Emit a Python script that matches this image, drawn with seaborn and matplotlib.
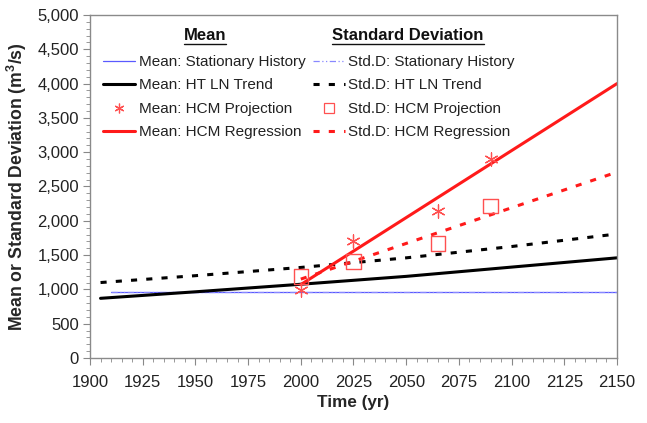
import numpy as np
import pandas as pd
import matplotlib
matplotlib.use("Agg")
import matplotlib.pyplot as plt
import seaborn as sns
from matplotlib.lines import Line2D
from matplotlib.ticker import MultipleLocator, FuncFormatter

# ---- data ----
stat_years = [1910, 2150]
stat_mean = [966, 966]
stat_std = [968, 968]

ht_years = [1905, 1950, 2000, 2050, 2100, 2150]
ht_mean = [870, 965, 1075, 1190, 1325, 1460]
ht_std = [1100, 1200, 1320, 1460, 1625, 1808]

reg_years = [2000, 2150]
reg_mean = [1070, 4000]
reg_std = [1150, 2710]

proj_years = [2000, 2025, 2065, 2090]
proj_mean = [990, 1700, 2150, 2905]
proj_std = [1185, 1405, 1672, 2216]

x_ticks = list(range(1900, 2151, 25))
y_ticks = list(range(0, 5001, 500))

sns.set_theme(style="white")
plt.rcParams['font.family'] = ['Liberation Sans', 'DejaVu Sans']
plt.rcParams['mathtext.fontset'] = 'custom'
plt.rcParams['mathtext.rm'] = 'Liberation Sans'
plt.rcParams['mathtext.bf'] = 'Liberation Sans:bold'

W, H = 647, 423
fig = plt.figure(figsize=(W / 100, H / 100), dpi=100)
ax = fig.add_axes([90 / W, 1 - 358 / H, (617 - 90) / W, (358 - 15) / H])

blue1 = '#5a5aff'
blue2 = '#8888ff'
red = '#ff1a1a'
lw_thick = 2.2
dash_pat = (2.0, 3.0)

df_stat = pd.DataFrame({'year': stat_years, 'mean': stat_mean, 'std': stat_std})
df_ht = pd.DataFrame({'year': ht_years, 'mean': ht_mean, 'std': ht_std})
df_reg = pd.DataFrame({'year': reg_years, 'mean': reg_mean, 'std': reg_std})
df_proj = pd.DataFrame({'year': proj_years, 'mean': proj_mean, 'std': proj_std})

sns.lineplot(data=df_stat, x='year', y='mean', ax=ax, color=blue1, linewidth=0.9)
sns.lineplot(data=df_stat, x='year', y='std', ax=ax, color=blue2, linewidth=0.9)
ax.lines[-1].set_dashes((5, 2, 1, 2, 1, 2))

sns.lineplot(data=df_ht, x='year', y='mean', ax=ax, color='black', linewidth=lw_thick)
sns.lineplot(data=df_ht, x='year', y='std', ax=ax, color='black', linewidth=lw_thick)
ax.lines[-1].set_dashes(dash_pat)

sns.lineplot(data=df_reg, x='year', y='mean', ax=ax, color=red, linewidth=lw_thick)
sns.lineplot(data=df_reg, x='year', y='std', ax=ax, color=red, linewidth=lw_thick)
ax.lines[-1].set_dashes(dash_pat)

ast_marker = (6, 2, 0)
sns.scatterplot(data=df_proj, x='year', y='mean', ax=ax, marker=ast_marker,
                s=90, color='#ff5050', edgecolor='#ff5050', linewidth=0.9, zorder=5)
sns.scatterplot(data=df_proj, x='year', y='std', ax=ax, marker='s', s=110,
                facecolor='none', edgecolor='#ff5050', linewidth=1.0, zorder=5)

ax.set_xlim(1900, 2150)
ax.set_ylim(0, 5000)
ax.set_xticks(x_ticks)
ax.set_yticks(y_ticks)
ax.xaxis.set_minor_locator(MultipleLocator(5))
ax.yaxis.set_minor_locator(MultipleLocator(100))
ax.yaxis.set_major_formatter(FuncFormatter(lambda v, p: f"{int(v):,}"))
ax.tick_params(axis='both', which='major', direction='out', length=5, width=0.8,
               color='#888888', labelsize=12, labelcolor='#222222', pad=3,
               bottom=True, left=True)
ax.tick_params(axis='both', which='minor', direction='out', length=3, width=0.6,
               color='#888888', bottom=True, left=True)
ax.tick_params(axis='x', pad=7)
for s in ax.spines.values():
    s.set_color('#8a8a8a')
    s.set_linewidth(1.0)

ax.set_xlabel('Time (yr)', fontsize=12.3, fontweight='bold', labelpad=4)
ax.set_ylabel(r'Mean or Standard Deviation (m$^{\mathbf{3}}$/s)', fontsize=12.7,
              fontweight='bold', labelpad=6)

# legend
handles = [
    Line2D([], [], color=blue1, lw=0.9),
    Line2D([], [], color='black', lw=lw_thick),
    Line2D([], [], color='#ff5050', lw=0, marker=ast_marker, markersize=7, markeredgewidth=0.9),
    Line2D([], [], color=red, lw=lw_thick),
    Line2D([], [], color=blue2, lw=0.9, dashes=(5, 2, 1, 2, 1, 2)),
    Line2D([], [], color='black', lw=lw_thick, dashes=dash_pat),
    Line2D([], [], color='#ff5050', lw=0, marker='s', markersize=7,
           markerfacecolor='none', markeredgewidth=0.9),
    Line2D([], [], color=red, lw=lw_thick, dashes=dash_pat),
]
labels = ['Mean: Stationary History', 'Mean: HT LN Trend', 'Mean: HCM Projection',
          'Mean: HCM Regression', 'Std.D: Stationary History', 'Std.D: HT LN Trend',
          'Std.D: HCM Projection', 'Std.D: HCM Regression']
leg = ax.legend(handles, labels, ncol=2, loc='upper left', frameon=False,
                bbox_to_anchor=(103 / W, 1 - 55 / H), bbox_transform=fig.transFigure,
                borderpad=0, borderaxespad=0, fontsize=11, handlelength=2.1,
                handletextpad=0.25, columnspacing=0.45, labelspacing=0.62)
for t in leg.get_texts():
    t.set_color('#222222')

# headers
fig.canvas.draw()
renderer = fig.canvas.get_renderer()
for txt, cx in [('Mean', 205), ('Standard Deviation', 408)]:
    t = fig.text(cx / W, 1 - 36 / H, txt, fontsize=12, fontweight='bold',
                 ha='center', va='center', color='#111111')
    bb = t.get_window_extent(renderer=renderer)
    yline = (bb.y0 - 1.0) / H
    fig.add_artist(Line2D([bb.x0 / W, bb.x1 / W], [yline, yline],
                          color='#111111', lw=1.0, transform=fig.transFigure))

fig.savefig('out.png', dpi=100)
